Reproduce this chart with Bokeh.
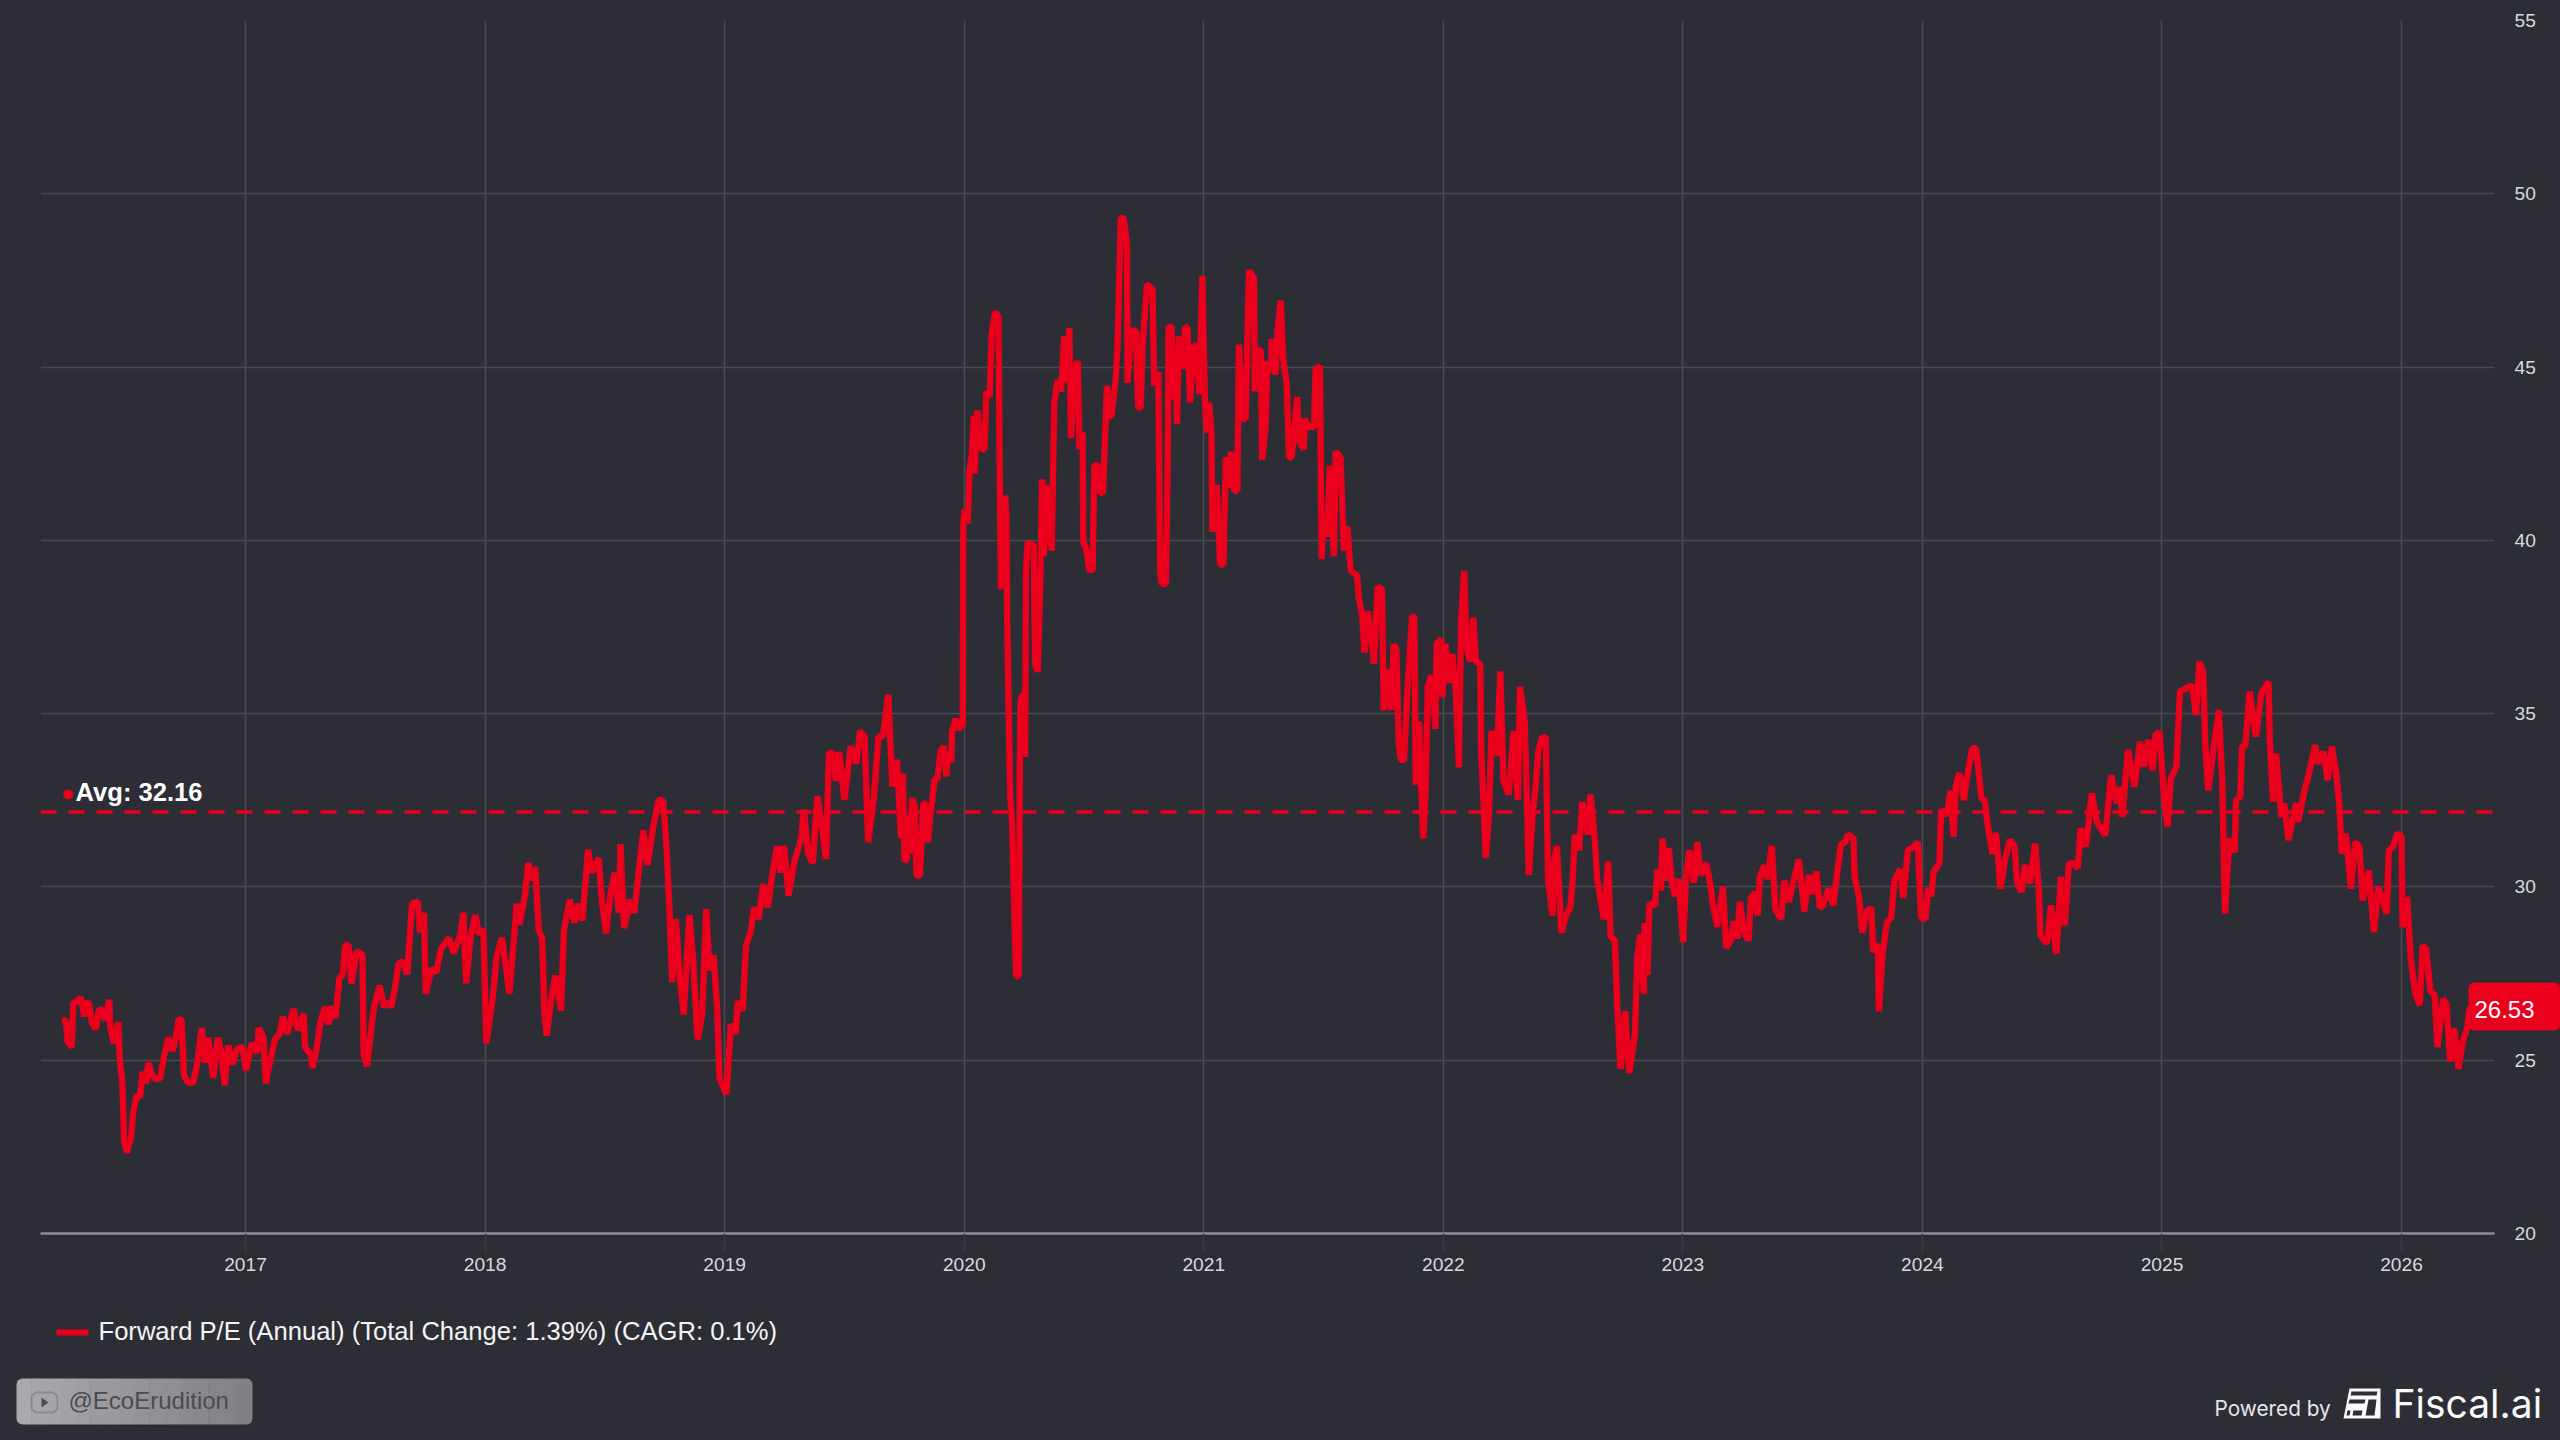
from bokeh.plotting import figure
from bokeh.embed import file_html
from bokeh.resources import INLINE
from bokeh.models import (Range1d, FixedTicker, BasicTickFormatter, Label, Span,
                          BoxAnnotation, PolyAnnotation, GlobalInlineStyleSheet)

# (year - 2000, forward P/E)
pe_2016_2017 = [
(16.233,26.15),(16.250,26.15),(16.257,25.54),(16.274,25.38),(16.281,26.65),(16.298,26.70),(16.312,26.81),(16.327,26.26),
(16.334,26.65),(16.346,26.65),(16.358,26.10),(16.375,25.90),(16.387,26.43),(16.402,26.48),(16.413,26.15),(16.431,26.74),
(16.435,25.98),(16.450,25.49),(16.469,26.10),(16.474,25.10),(16.486,24.33),(16.493,22.67),(16.505,22.33),(16.522,22.78),
(16.531,23.50),(16.546,23.99),(16.560,23.94),(16.570,24.66),(16.584,24.33),(16.594,24.93),(16.611,24.55),(16.627,24.44),
(16.644,24.49),(16.659,25.10),(16.678,25.65),(16.695,25.27),(16.709,25.65),(16.721,26.21),(16.733,26.15),(16.743,24.55),
(16.762,24.35),(16.781,24.35),(16.798,24.88),(16.817,25.93),(16.832,24.93),(16.844,25.65),(16.865,24.49),(16.885,25.65),
(16.899,25.21),(16.913,24.27),(16.928,25.43),(16.945,24.88),(16.964,25.32),(16.988,25.38),(17.002,24.71),(17.026,25.49),
(17.048,25.21),(17.055,25.93),(17.075,25.65),(17.084,24.33),(17.101,24.93),(17.123,25.60),(17.142,25.76),(17.156,26.26),
(17.175,25.76),(17.200,26.48),(17.219,25.87),(17.243,26.34),(17.248,25.38),(17.272,25.16),(17.279,24.77),(17.296,25.32),
(17.313,26.10),(17.332,26.54),(17.346,26.04),(17.363,26.56),(17.375,26.21),(17.392,27.37),(17.406,27.48),(17.416,28.32),
(17.430,28.32),(17.442,27.21),(17.464,28.15),(17.488,28.04),(17.493,25.21),(17.507,24.82),(17.524,25.87),(17.536,26.54),
(17.560,27.15),(17.577,26.54),(17.591,26.70),(17.608,26.54),(17.627,27.21),(17.637,27.76),(17.656,27.87),(17.675,27.48),
(17.695,29.52),(17.719,29.58),(17.728,28.69),(17.745,29.25),(17.752,26.92),(17.776,27.64),(17.796,27.53),(17.815,28.20),
(17.849,28.53),(17.868,28.09),(17.897,28.64),(17.909,29.25),(17.921,27.22),(17.940,28.58),(17.959,29.19),(17.974,28.64),
(17.993,28.77)]
pe_2018_2019 = [
(18.005,25.49),(18.031,26.76),(18.048,27.98),(18.070,28.53),(18.089,27.59),(18.101,26.92),(18.118,28.31),(18.132,29.52),
(18.144,28.92),(18.166,29.75),(18.180,30.69),(18.197,30.19),(18.209,30.58),(18.224,28.75),(18.238,28.53),(18.248,26.32),
(18.257,25.71),(18.276,26.76),(18.293,27.44),(18.317,26.43),(18.329,28.75),(18.353,29.63),(18.373,28.97),(18.389,29.52),
(18.406,29.03),(18.430,31.07),(18.445,30.41),(18.474,30.83),(18.488,29.58),(18.505,28.66),(18.522,29.75),(18.541,30.41),
(18.558,29.25),(18.565,31.24),(18.580,28.81),(18.606,29.63),(18.623,29.25),(18.642,30.52),(18.661,31.63),(18.678,30.63),
(18.702,31.74),(18.724,32.51),(18.743,32.49),(18.757,31.18),(18.769,29.41),(18.781,27.26),(18.796,29.08),(18.812,27.42),
(18.829,26.32),(18.853,29.19),(18.868,27.92),(18.887,25.60),(18.906,26.32),(18.923,29.36),(18.937,27.59),(18.954,28.03),
(18.969,26.43),(18.978,24.49),(19.007,24.02),(19.026,26.04),(19.046,25.76),(19.055,26.70),(19.075,26.43),(19.089,28.31),
(19.108,28.69),(19.123,29.41),(19.142,29.08),(19.161,30.08),(19.180,29.41),(19.200,30.41),(19.219,31.18),(19.233,30.41),
(19.248,31.18),(19.267,29.75),(19.291,30.74),(19.320,31.40),(19.330,32.23),(19.349,30.96),(19.368,30.69),(19.387,32.62),
(19.406,31.74),(19.423,30.80),(19.435,33.84),(19.450,33.89),(19.464,33.06),(19.478,33.89),(19.500,32.51),(19.526,34.06),
(19.550,33.56),(19.565,34.50),(19.584,34.34),(19.599,31.29),(19.623,32.57),(19.642,34.34),(19.661,34.34),(19.683,35.55),
(19.700,32.90),(19.719,33.67),(19.736,31.40),(19.744,33.27),(19.751,30.73),(19.760,30.81),(19.771,32.08),(19.776,30.97),
(19.782,32.56),(19.793,32.32),(19.801,30.33),(19.815,30.33),(19.829,32.40),(19.840,32.40),(19.849,31.29),(19.860,32.16),
(19.869,32.63),(19.876,33.11),(19.888,33.11),(19.901,33.90),(19.915,34.06),(19.925,33.19),(19.932,33.90),(19.946,33.59),
(19.949,34.46),(19.964,34.86),(19.976,34.54),(19.994,34.70)]
pe_2020 = [
(19.996,40.41),(20.001,40.89),(20.015,40.49),(20.022,42.00),(20.032,42.48),(20.040,43.59),(20.043,41.92),(20.054,43.75),
(20.071,42.63),(20.085,42.63),(20.092,44.30),(20.106,44.14),(20.115,45.97),(20.129,46.60),(20.143,46.44),(20.149,41.29),
(20.154,38.59),(20.171,41.29),(20.176,40.73),(20.179,37.87),(20.185,35.33),(20.192,32.63),(20.200,31.84),(20.210,28.98),
(20.217,27.43),(20.228,27.43),(20.232,33.35),(20.235,35.41),(20.249,35.57),(20.254,33.75),(20.258,39.14),(20.265,39.94),
(20.290,39.86),(20.296,36.44),(20.307,36.21),(20.318,38.98),(20.325,41.76),(20.332,39.54),(20.349,41.60),(20.365,39.70),
(20.376,43.98),(20.390,44.62),(20.404,44.30),(20.418,45.89),(20.425,44.54),(20.439,46.13),(20.446,42.95),(20.460,44.94),
(20.474,45.17),(20.481,42.63),(20.494,43.11),(20.497,39.94),(20.508,39.78),(20.522,39.14),(20.536,39.14),(20.543,42.16),
(20.560,42.16),(20.568,41.37),(20.579,41.37),(20.596,44.46),(20.606,43.59),(20.615,43.59),(20.633,44.70),(20.640,45.65),
(20.654,49.30),(20.665,49.30),(20.679,48.59),(20.682,44.54),(20.696,46.05),(20.717,46.05),(20.726,43.83),(20.737,43.83),
(20.744,45.57),(20.763,47.40),(20.786,47.24),(20.793,44.46),(20.810,44.86),(20.818,39.14),(20.824,38.75),(20.842,38.75),
(20.849,42.16),(20.853,46.16),(20.865,46.16),(20.876,44.06),(20.885,45.10),(20.888,43.35),(20.897,45.89),(20.911,44.94),
(20.922,46.16),(20.932,46.13),(20.943,43.98),(20.957,45.57),(20.971,45.65),(20.981,44.22),(20.994,47.63)]
pe_2021 = [
(21.004,44.14),(21.013,43.11),(21.022,43.98),(21.032,43.11),(21.036,40.25),(21.054,41.60),(21.068,39.30),(21.082,39.30),
(21.092,42.40),(21.106,41.52),(21.113,42.56),(21.126,41.44),(21.140,41.44),(21.147,45.65),(21.161,43.51),(21.175,43.51),
(21.189,47.79),(21.210,47.56),(21.213,44.30),(21.226,45.49),(21.238,45.49),(21.244,42.32),(21.258,43.27),(21.265,45.17),
(21.282,44.86),(21.283,45.81),(21.300,44.78),(21.307,45.97),(21.321,46.92),(21.331,45.25),(21.346,44.54),(21.356,42.40),
(21.367,42.40),(21.390,44.14),(21.397,42.87),(21.418,42.63),(21.421,43.51),(21.435,43.27),(21.460,43.27),(21.467,44.94),
(21.485,45.02),(21.492,39.46),(21.501,40.73),(21.515,40.10),(21.526,42.16),(21.543,39.54),(21.551,42.56),(21.571,42.40),
(21.585,39.70),(21.599,40.41),(21.613,39.14),(21.640,38.98),(21.647,38.35),(21.661,37.87),(21.671,36.76),(21.685,37.95),
(21.699,37.24),(21.710,36.44),(21.726,38.67),(21.744,38.59),(21.751,35.10),(21.769,36.29),(21.782,35.10),(21.793,37.00),
(21.804,36.84),(21.814,34.14),(21.823,33.67),(21.836,33.67),(21.851,35.78),(21.870,37.83),(21.879,37.77),(21.885,32.95),
(21.898,34.78),(21.916,31.40),(21.926,32.78),(21.935,35.78),(21.950,36.11),(21.967,34.56),(21.972,37.00),(21.991,37.16),
(21.996,35.47)]
pe_2022 = [
(22.009,37.02),(22.022,35.89),(22.037,36.72),(22.052,35.67),(22.065,33.45),(22.074,37.66),(22.087,39.12),(22.097,36.94),
(22.112,36.50),(22.125,37.77),(22.136,36.50),(22.154,36.44),(22.158,34.00),(22.177,30.84),(22.190,32.00),(22.201,34.50),
(22.223,33.78),(22.238,36.22),(22.251,33.06),(22.273,32.67),(22.294,34.50),(22.311,32.51),(22.320,35.78),(22.340,34.78),
(22.357,30.34),(22.372,32.00),(22.385,32.89),(22.396,33.89),(22.409,34.28),(22.428,34.33),(22.437,30.23),(22.456,29.18),
(22.461,30.73),(22.474,31.18),(22.493,28.68),(22.512,29.18),(22.530,29.40),(22.540,30.23),(22.549,31.51),(22.567,31.06),
(22.580,32.45),(22.604,31.51),(22.614,32.67),(22.633,31.29),(22.642,30.23),(22.670,29.07),(22.688,30.73),(22.698,28.57),
(22.716,28.46),(22.726,26.57),(22.740,24.75),(22.759,26.41),(22.776,24.63),(22.800,25.74),(22.809,27.90),(22.822,28.63),
(22.837,26.91),(22.840,28.96),(22.852,27.46),(22.860,29.51),(22.884,29.46),(22.893,30.51),(22.908,29.90),(22.915,31.40),
(22.930,30.18),(22.941,31.12),(22.954,30.12),(22.967,29.73),(22.982,30.23)]
pe_2023 = [
(23.001,28.40),(23.014,30.34),(23.027,31.06),(23.046,30.12),(23.060,31.29),(23.075,30.34),(23.098,30.68),(23.116,30.01),
(23.126,29.46),(23.144,28.85),(23.167,30.01),(23.181,28.24),(23.200,28.46),(23.213,29.01),(23.228,28.51),(23.237,29.57),
(23.256,28.68),(23.274,28.46),(23.284,29.68),(23.302,29.84),(23.312,29.18),(23.321,30.29),(23.340,30.62),(23.353,30.23),
(23.371,31.18),(23.386,29.35),(23.410,29.07),(23.423,30.18),(23.442,29.57),(23.460,30.12),(23.484,30.79),(23.507,29.29),
(23.526,30.34),(23.541,29.79),(23.557,30.45),(23.572,29.40),(23.585,29.46),(23.609,29.96),(23.628,29.46),(23.647,30.57),
(23.660,31.23),(23.678,31.29),(23.689,31.51),(23.712,31.40),(23.717,30.29),(23.736,29.68),(23.749,28.68),(23.767,29.29),
(23.786,29.40),(23.795,28.13),(23.814,28.35),(23.818,26.41),(23.833,28.02),(23.851,28.96),(23.870,29.12),(23.883,30.18),
(23.907,30.51),(23.920,29.68),(23.939,31.06),(23.957,31.12),(23.981,31.29),(23.994,29.12)]
pe_2024 = [
(24.013,29.07),(24.024,29.96),(24.037,29.73),(24.047,30.45),(24.071,30.68),(24.078,32.23),(24.102,32.06),(24.117,32.78),
(24.130,31.45),(24.140,32.95),(24.154,33.28),(24.173,32.51),(24.190,33.34),(24.208,34.00),(24.223,34.00),(24.233,33.45),
(24.246,32.56),(24.260,32.51),(24.270,31.90),(24.292,30.95),(24.307,31.56),(24.326,29.95),(24.344,30.77),(24.365,31.35),
(24.384,31.20),(24.396,30.10),(24.414,29.86),(24.428,30.63),(24.449,30.10),(24.470,31.25),(24.485,30.00),(24.493,28.60),
(24.520,28.36),(24.537,29.47),(24.559,28.07),(24.578,30.29),(24.594,28.89),(24.611,30.67),(24.634,30.67),(24.648,30.53),
(24.661,31.69),(24.682,31.16),(24.707,32.70),(24.728,31.88),(24.763,31.49),(24.788,33.23),(24.811,32.41),(24.823,32.89),
(24.834,32.02),(24.858,33.95),(24.885,32.89),(24.908,34.19),(24.925,33.47),(24.943,34.24),(24.960,33.37),(24.973,34.38),
(24.989,34.48)]
pe_2025_2026 = [
(25.011,32.41),(25.023,31.73),(25.037,33.13),(25.060,33.47),(25.075,35.64),(25.101,35.73),(25.125,35.83),(25.142,34.96),
(25.156,36.50),(25.172,36.21),(25.181,34.05),(25.193,32.79),(25.209,33.66),(25.237,35.10),(25.251,33.18),(25.263,29.23),
(25.281,31.40),(25.304,31.01),(25.309,32.50),(25.327,32.60),(25.334,34.05),(25.348,34.09),(25.366,35.64),(25.392,34.34),
(25.415,35.59),(25.445,35.92),(25.450,34.24),(25.464,32.46),(25.476,33.85),(25.498,32.02),(25.510,32.41),(25.528,31.35),
(25.560,32.41),(25.568,31.88),(25.595,32.79),(25.612,33.23),(25.639,34.09),(25.651,33.56),(25.674,33.90),(25.692,33.08),
(25.709,34.05),(25.727,33.28),(25.741,32.31),(25.750,30.96),(25.767,31.54),(25.789,29.95),(25.806,31.30),(25.824,31.16),
(25.838,29.61),(25.863,30.48),(25.885,28.70),(25.903,30.00),(25.938,29.23),(25.947,31.06),(25.965,31.16),(25.982,31.54),
(26.000,31.45),(26.004,28.84),(26.023,29.71),(26.039,27.88),(26.058,26.92),(26.076,26.58),(26.088,28.31),(26.102,28.22),
(26.120,27.01),(26.138,26.87),(26.150,25.38),(26.173,26.77),(26.187,26.63),(26.203,24.96),(26.220,25.91),(26.238,24.75),
(26.256,25.57),(26.273,25.91),(26.285,26.53)]

year_ticks = [2017, 2018, 2019, 2020, 2021, 2022, 2023, 2024, 2025, 2026]
pe_ticks = [20, 25, 30, 35, 40, 45, 50, 55]
average_pe = 32.16
last_pe = "26.53"
avg_text = "Avg: 32.16"
legend_text = "Forward P/E (Annual) (Total Change: 1.39%) (CAGR: 0.1%)"
handle_text = "@EcoErudition"

series = (pe_2016_2017 + pe_2018_2019 + pe_2020 + pe_2021 + pe_2022 + pe_2023
          + pe_2024 + pe_2025_2026)
dates = [2000 + t for t, _ in series]
values = [v for _, v in series]

BG = "#2c2d35"
RED = "#ea001c"
GRID = "#4a4b52"

W, H = 2560, 1440
p = figure(width=W, height=H, output_backend="svg", toolbar_location=None,
           x_range=Range1d(2016.144, 2026.388), y_range=Range1d(20, 55),
           y_axis_location="right", min_border_left=40, min_border_right=66,
           min_border_top=20, min_border_bottom=207,
           stylesheets=[GlobalInlineStyleSheet(css="html,body{margin:0;padding:0;background:%s;}" % BG)])
p.background_fill_color = BG
p.border_fill_color = BG
p.outline_line_color = None

p.xaxis.ticker = FixedTicker(ticks=year_ticks)
p.xaxis.formatter = BasicTickFormatter(use_scientific=False, precision=0)
p.yaxis.ticker = FixedTicker(ticks=pe_ticks)
p.yaxis.formatter = BasicTickFormatter(use_scientific=False, precision=0)
p.xaxis.axis_line_color = "#8e8e95"
p.xaxis.axis_line_width = 2.4
p.xaxis.major_tick_in = 0
p.xaxis.major_tick_out = 18
p.xaxis.major_tick_line_color = "#3a3b41"
p.xaxis.major_tick_line_width = 1.6
p.xaxis.minor_tick_line_color = None
p.xaxis.major_label_standoff = 6
p.yaxis.axis_line_color = None
p.yaxis.major_tick_line_color = None
p.yaxis.minor_tick_line_color = None
p.yaxis.major_label_standoff = 14
for ax in (p.xaxis, p.yaxis):
    ax.major_label_text_color = "#d9d9dd"
    ax.major_label_text_font = "Liberation Sans"
    ax.major_label_text_font_size = "19.2px"
p.grid.grid_line_color = GRID
p.grid.grid_line_width = 1.6

p.line(dates, values, line_color=RED, line_width=6.4, line_join="bevel", line_cap="butt")
p.add_layout(Span(location=average_pe, dimension="width", line_color=RED,
                  line_width=3.6, line_dash="16 12"))
p.scatter([2016.26], [32.67], size=10, color=RED, line_color=None)

# transparent full-page layer for everything that sits outside the plot frame
ov = figure(width=W, height=H, output_backend="svg", toolbar_location=None,
            x_range=Range1d(0, W), y_range=Range1d(H, 0),
            x_axis_location=None, y_axis_location=None,
            min_border=0, styles={"position": "absolute", "top": "0", "left": "0"})
ov.grid.visible = False
ov.background_fill_color = None
ov.border_fill_color = None
ov.outline_line_color = None


def label(x, y, text, size, color="#ffffff", font="Liberation Sans", style="normal", align="left"):
    ov.add_layout(Label(x=x, y=y, x_units="canvas", y_units="canvas", text=text,
                        text_font=font, text_font_size=size, text_color=color,
                        text_font_style=style, text_align=align, text_baseline="middle"))


def box(l, r, t, b, color=None, radius=0, line=None, lw=1):
    ov.add_layout(BoxAnnotation(left=l, right=r, top=t, bottom=b,
                                left_units="canvas", right_units="canvas",
                                top_units="canvas", bottom_units="canvas",
                                fill_color=color, fill_alpha=1 if color else 0,
                                line_color=line, line_width=lw, border_radius=radius,
                                level="annotation"))


def poly(xs, ys, color):
    ov.add_layout(PolyAnnotation(xs=xs, ys=ys, xs_units="canvas", ys_units="canvas",
                                 fill_color=color, fill_alpha=1, line_color=None,
                                 level="annotation"))


label(75, 791.5, avg_text, "25.6px", style="bold")

# last-value tag
box(2468, 2560, 982, 1030, RED, radius=6)
label(2474, 1008.5, last_pe, "24px")

# legend
box(56, 88, 1329, 1335, RED)
label(98, 1330, legend_text, "25.6px", color="#f4f4f6")

# handle badge, horizontal gradient in slices
n = 16
left, right = 16, 252
for i in range(n):
    f = (i + 0.5) / n
    c = "#%02x%02x%02x" % (int(172 - 45 * f), int(172 - 45 * f), int(176 - 44 * f))
    rad = (6, 0, 0, 6) if i == 0 else (0, 6, 6, 0) if i == n - 1 else 0
    box(left + (right - left) * i / n, left + (right - left) * (i + 1) / n + (0.5 if i < n - 1 else 0),
        1378, 1424, c, radius=rad)
box(31, 57, 1392, 1412, None, radius=6, line="#4b4b51", lw=2)
poly([41, 41, 48], [1397, 1407, 1402], "#4b4b51")
label(68, 1399.5, handle_text, "24px", color="#4b4b51")

# powered by
label(2214, 1408, "Powered by", "20.8px", color="#e6e6ea", font="Inter")
poly([2349, 2380, 2380, 2343], [1388, 1388, 1418, 1418], "#fafafa")
poly([2351, 2377, 2376, 2350], [1391, 1391, 1395, 1395], BG)
poly([2349, 2365, 2364, 2348], [1399, 1399, 1403, 1403], BG)
poly([2368, 2376, 2374, 2365], [1399, 1399, 1415, 1415], BG)
poly([2347, 2350, 2349, 2346], [1410, 1410, 1415, 1415], BG)
poly([2353, 2362, 2361, 2352], [1410, 1410, 1415, 1415], BG)
label(2392, 1403, "Fiscal.ai", "39px", color="#fafafa", font="Inter")

open("out.html", "w").write(file_html([p, ov], INLINE))
